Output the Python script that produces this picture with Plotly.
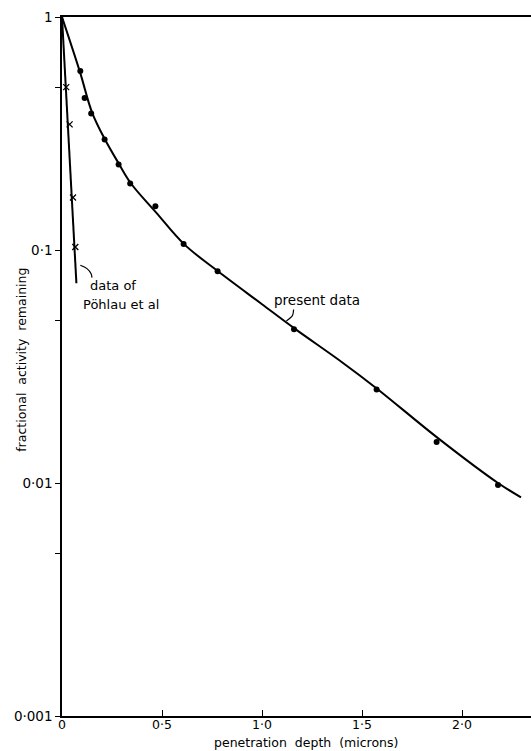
import numpy as np
import plotly.graph_objects as go

# present data (filled circles)
present_x = [0.0915, 0.113, 0.146, 0.213, 0.283, 0.341, 0.467, 0.608, 0.778, 1.16, 1.573, 1.873, 2.18]
present_y = [0.587, 0.449, 0.385, 0.298, 0.233, 0.193, 0.154, 0.106, 0.081, 0.0457, 0.0252, 0.0150, 0.0098]

# fitted curve through present data
curve_x = [0, 0.09, 0.15, 0.215, 0.285, 0.345, 0.47, 0.61, 0.78, 1.0, 1.16, 1.4, 1.575, 1.875, 2.18, 2.295]
curve_y = [1, 0.58, 0.39, 0.298, 0.234, 0.193, 0.145, 0.106, 0.081, 0.0585, 0.0462, 0.0330, 0.0254, 0.0157, 0.0100, 0.00868]

# data of Pöhlau et al (crosses) and line
pohlau_x = [0.021, 0.038, 0.055, 0.0665]
pohlau_y = [0.50, 0.346, 0.168, 0.103]
pohlau_line_x = [0, 0.072]
pohlau_line_y = [1, 0.072]

# leader lines for the labels
lead1_x = [0.0915, 0.125, 0.145, 0.15]
lead1_y = [0.0860, 0.0832, 0.0792, 0.0761]
lead2_x = [1.158, 1.153, 1.138, 1.122]
lead2_y = [0.0555, 0.0525, 0.0508, 0.0496]

x_ticks = [0, 0.5, 1.0, 1.5, 2.0]
x_ticktext = ["0", "0·5", "1·0", "1·5", "2·0"]
y_ticks = [0.001, 0.005, 0.01, 0.05, 0.1, 0.5, 1]
y_ticktext = ["0·001", "", "0·01", "", "0·1", "", "1"]

FONT = "DejaVu Sans"
fig = go.Figure()
fig.add_trace(go.Scatter(x=curve_x, y=curve_y, mode="lines",
                         line=dict(color="black", width=2, shape="spline", smoothing=1.0),
                         hoverinfo="skip"))
fig.add_trace(go.Scatter(x=present_x, y=present_y, mode="markers",
                         marker=dict(color="black", size=6, symbol="circle")))
fig.add_trace(go.Scatter(x=pohlau_line_x, y=pohlau_line_y, mode="lines",
                         line=dict(color="black", width=2)))
fig.add_trace(go.Scatter(x=pohlau_x, y=pohlau_y, mode="markers",
                         marker=dict(color="black", size=6, symbol="x-thin-open",
                                     line=dict(color="black", width=1.3))))
for lx, ly in [(lead1_x, lead1_y), (lead2_x, lead2_y)]:
    fig.add_trace(go.Scatter(x=lx, y=ly, mode="lines",
                             line=dict(color="black", width=1.2, shape="spline")))

fig.update_layout(
    width=531, height=751,
    margin=dict(l=62, r=0, t=17, b=35),
    paper_bgcolor="white", plot_bgcolor="white",
    showlegend=False,
    font=dict(family=FONT, color="black", size=12),
    xaxis=dict(range=[0, 2.345], tickvals=x_ticks, ticktext=x_ticktext,
               showgrid=False, zeroline=False, showline=True, linecolor="black",
               linewidth=1.5, mirror=True, ticks="inside", ticklen=6,
               tickwidth=1.3, tickcolor="black", tickfont=dict(size=12.5),
               ticklabelstandoff=-4),
    yaxis=dict(type="log", range=[-3, 0], tickvals=y_ticks, ticktext=y_ticktext,
               showgrid=False, zeroline=False, showline=True, linecolor="black",
               linewidth=1.5, ticks="outside", ticklen=5, tickwidth=1.3,
               tickcolor="black", tickfont=dict(size=13.5), ticklabelstandoff=0),
    annotations=[
        dict(text="fractional  activity  remaining", xref="paper", yref="paper",
             x=-50/469, y=(715.7 - 360) / 699, textangle=-90, showarrow=False,
             font=dict(size=12.5, family=FONT)),
        dict(text="penetration  depth  (microns)", xref="paper", yref="paper",
             x=244/469, y=-26/699, yanchor="middle", showarrow=False,
             font=dict(size=12.5, family=FONT)),
        dict(text="data of", x=0.13, y=-1.1515, xanchor="left", showarrow=False,
             font=dict(size=13, family=FONT)),
        dict(text="Pöhlau et al", x=0.097, y=-1.233, xanchor="left", showarrow=False,
             font=dict(size=13, family=FONT)),
        dict(text="present data", x=1.05, y=-1.216, xanchor="left", showarrow=False,
             font=dict(size=13.5, family=FONT)),
    ],
)
fig.write_html("out.html")
